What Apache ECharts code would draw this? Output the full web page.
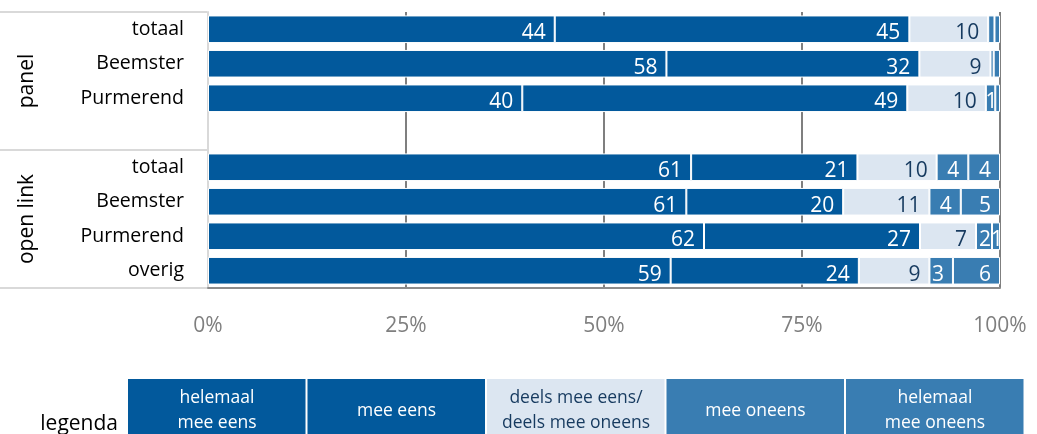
<!DOCTYPE html>
<html>
<head>
<meta charset="utf-8">
<script src="https://cdn.jsdelivr.net/npm/echarts@6/dist/echarts.min.js"></script>
<style>
  html, body { margin: 0; padding: 0; background: #fff; }
  #chart { width: 1037px; height: 434px; }
</style>
</head>
<body>
<div id="chart"></div>
<script>
// data
const categories = ['totaal', 'Beemster', 'Purmerend', '', 'totaal', 'Beemster', 'Purmerend', 'overig'];
const groupNames = ['panel', 'open link'];
const seriesNames = ['helemaal mee eens', 'mee eens', 'deels mee eens/deels mee oneens', 'mee oneens', 'helemaal mee oneens'];
const legendLabels = ['helemaal\nmee eens', 'mee eens', 'deels mee eens/\ndeels mee oneens', 'mee oneens', 'helemaal\nmee oneens'];
const helemaalEens = [44, 58, 40, null, 61, 61, 62, 59];
const meeEens = [45, 32, 49, null, 21, 20, 27, 24];
const deelsEens = [10, 9, 10, null, 10, 11, 7, 9];
const meeOneens = [0.8, 0.4, 1.2, null, 4, 4, 2, 3];
const helemaalOneens = [0.7, 0.8, 0.6, null, 4, 5, 1, 6];
const tickLabels = ['0%', '25%', '50%', '75%', '100%'];

const colors = ['#02599c', '#02599c', '#dce6f1', '#397db2', '#397db2'];
const labelColors = ['#fff', '#fff', '#163a5f', '#fff', '#fff'];

const allData = [helemaalEens, meeEens, deelsEens, meeOneens, helemaalOneens];

// rijtotalen -> 100%
const rowSum = categories.map((c, i) => allData.reduce((s, arr) => s + (arr[i] || 0), 0));

const series = allData.map((arr, k) => ({
  name: seriesNames[k],
  type: 'bar',
  stack: 'tot',
  barCategoryGap: '20%',
  itemStyle: { color: colors[k], borderColor: '#fff', borderWidth: 1 },
  label: {
    position: 'insideRight',
    distance: 9,
    offset: [0, 4],
    color: labelColors[k],
    fontFamily: 'Open Sans',
    fontSize: 21,
    formatter: p => String(Math.round(p.data.raw))
  },
  data: arr.map((v, i) => v == null ? { value: '-', raw: 0 } : {
    value: v / rowSum[i] * 100,
    raw: v,
    // kleine stukjes: label in het midden
    label: v < 3 ? { show: v >= 1, position: 'inside', offset: [1, 4] } : { show: true }
  })
}));

const chart = echarts.init(document.getElementById('chart'));

const gridLeft = 208, gridTop = 12;
const graphics = [];
// tabel lijnen links
[12, 150, 288].forEach(y => {
  graphics.push({ type: 'line', shape: { x1: 0, y1: y, x2: 207, y2: y }, style: { stroke: '#d9d9d9', lineWidth: 2 } });
});
// groep labels
groupNames.forEach((g, i) => {
  graphics.push({
    type: 'text', x: 27, y: i === 0 ? 81 : 219, rotation: Math.PI / 2,
    style: { text: g, fontSize: 21, fontFamily: 'Open Sans', fill: '#000', textAlign: 'center', textVerticalAlign: 'middle' }
  });
});
// legenda
graphics.push({
  type: 'text', x: 118, y: 424,
  style: { text: 'legenda', fontSize: 21, fontFamily: 'Open Sans', fill: '#000', textAlign: 'right', textVerticalAlign: 'middle' }
});
legendLabels.forEach((t, k) => {
  const x = 128 + k * 179.5;
  graphics.push({ type: 'rect', shape: { x: x, y: 379, width: 177.5, height: 70 }, style: { fill: colors[k] } });
  graphics.push({
    type: 'text', x: x + 89, y: 411,
    style: { text: t, fontSize: 17.5, lineHeight: 25, fontFamily: 'Open Sans', fill: labelColors[k], textAlign: 'center', textVerticalAlign: 'middle' }
  });
});

const option = {
  animation: false,
  grid: { left: gridLeft, right: 37, top: gridTop, bottom: 146 },
  xAxis: {
    type: 'value',
    min: 0,
    max: 100,
    interval: 25,
    axisLine: { show: true, lineStyle: { color: '#8c8c8c', width: 2 } },
    axisTick: { show: false },
    splitLine: { show: true, lineStyle: { color: '#7f7f7f', width: 2 } },
    axisLabel: {
      color: '#7f7f7f', fontSize: 21, fontFamily: 'Open Sans', margin: 28,
      formatter: v => tickLabels[v / 25]
    }
  },
  yAxis: {
    type: 'category',
    inverse: true,
    data: categories,
    axisLine: { show: true, lineStyle: { color: '#d9d9d9', width: 2 } },
    axisTick: { show: false },
    axisLabel: { color: '#000', fontSize: 19.5, fontFamily: 'Open Sans', margin: 24 }
  },
  graphic: graphics,
  series: series
};

chart.setOption(option);
</script>
</body>
</html>
